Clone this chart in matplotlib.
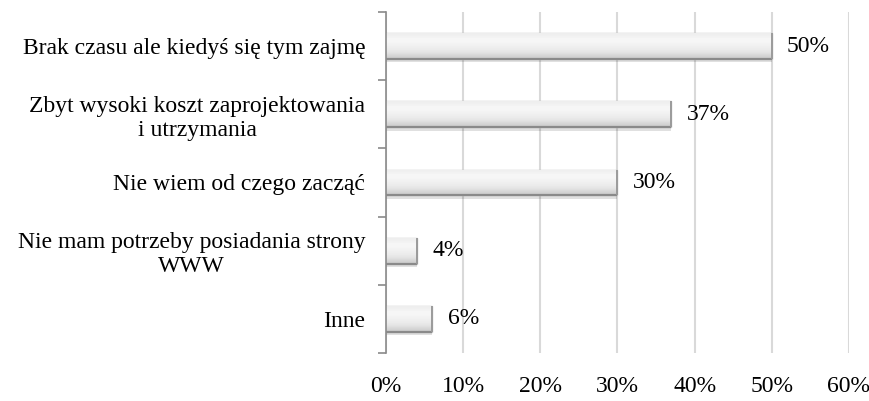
import numpy as np
import matplotlib
matplotlib.use("Agg")
import matplotlib.pyplot as plt
from matplotlib.ticker import PercentFormatter

plt.rcParams["font.family"] = ["Liberation Serif", "DejaVu Serif"]

categories = [
    "Brak czasu ale kiedyś się tym zajmę",
    "Zbyt wysoki koszt zaprojektowania\ni utrzymania",
    "Nie wiem od czego zacząć",
    "Nie mam potrzeby posiadania strony\nWWW",
    "Inne",
]
values = [50, 37, 30, 4, 6]
xticks = [0, 10, 20, 30, 40, 50, 60]

fig = plt.figure(figsize=(8.7, 4.01), dpi=100)
ax = fig.add_axes([0.4437, 0.12, 0.532, 0.85])

y = np.arange(len(categories))

# soft shadow under the bars
ax.barh(y + 0.05, values, height=0.38, color="#000000", alpha=0.12,
        linewidth=0, zorder=2.5)
bars = ax.barh(y, values, height=0.38, color="#efefef", edgecolor="#c4c4c4",
               linewidth=1.0, zorder=3)

# bevel-like shading: vertical gradient clipped to each bar
grad = np.array([[0.93], [0.97], [0.96], [0.94], [0.92], [0.88], [0.80]])
for b in bars:
    x0, y0 = b.get_x(), b.get_y()
    w, h = b.get_width(), b.get_height()
    im = ax.imshow(grad, cmap="gray", vmin=0, vmax=1, aspect="auto",
                   extent=[x0, x0 + w, y0 + h, y0], zorder=3.5,
                   interpolation="bicubic")
    im.set_clip_path(b)
    ax.hlines(y0 + h, x0, x0 + w, color="#8a8a8a", linewidth=1.6, zorder=4)
    ax.vlines(x0 + w, y0, y0 + h, color="#9a9a9a", linewidth=1.4, zorder=4)

fs = 17
for yi, v in zip(y, values):
    ax.annotate(f"{v}%", (v, yi), xytext=(11, 0), textcoords="offset points",
                va="center", ha="left", fontsize=fs)

ax.set_xlim(0, 60)
ax.set_ylim(len(categories) - 0.5, -0.5)
ax.set_xticks(xticks)
ax.xaxis.set_major_formatter(PercentFormatter(decimals=0))
ax.tick_params(axis="x", length=0, labelsize=fs, pad=17)
ax.set_yticks(y)
ax.set_yticklabels(categories, fontsize=fs, multialignment="center")
ax.tick_params(axis="y", which="major", length=0, pad=15)
ax.set_yticks(np.arange(-0.5, len(categories), 1), minor=True)
ax.tick_params(axis="y", which="minor", length=6, width=1.2, color="#8a8a8a",
               direction="out")

ax.grid(axis="x", color="#d9d9d9", linewidth=1.5, zorder=0)
ax.set_axisbelow(True)
for s in ["top", "right", "bottom"]:
    ax.spines[s].set_visible(False)
ax.spines["left"].set_color("#8a8a8a")
ax.spines["left"].set_linewidth(1.2)
ax.spines["left"].set_zorder(5)

fig.savefig("out.png", dpi=100)
